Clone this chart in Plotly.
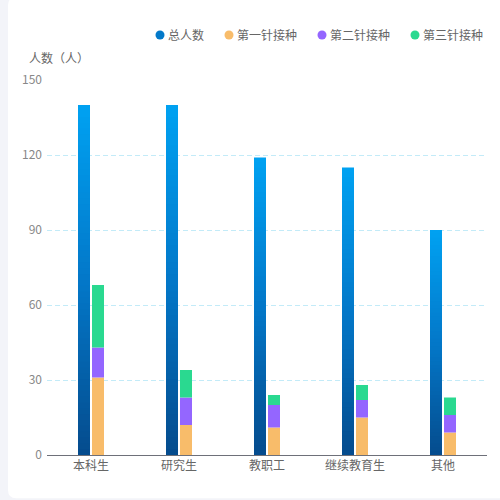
import plotly.graph_objects as go
import plotly.colors as pc

# data
categories = ["本科生", "研究生", "教职工", "继续教育生", "其他"]
total = [140, 140, 119, 115, 90]
dose1 = [31, 12, 11, 15, 9]
dose2 = [12, 11, 9, 7, 7]
dose3 = [25, 11, 4, 6, 7]
series_names = ["总人数", "第一针接种", "第二针接种", "第三针接种"]

font_family = "Noto Sans CJK SC, Noto Sans, sans-serif"
dose_colors = ["#f8bc6a", "#9466ff", "#2ad990"]
legend_colors = ["#0379c9"] + dose_colors
grad = [[0, "#054b8c"], [0.5, "#0377c8"], [1, "#00a1f1"]]

# plot area in pixels (for placing the hand-made legend)
pl, pr, pt, pb = 47, 13, 80, 45
pw, ph = 500 - pl - pr, 500 - pt - pb
cat_px = pw / len(categories)

# bar geometry in category units (12px bars, 2px gap)
bar_w = 12 / cat_px
total_off = -13 / cat_px
stack_off = 1 / cat_px

fig = go.Figure()

# total bar: overlay shrinking bars to fake a vertical gradient
steps = 60
gx, gy, gc = [], [], []
for k in range(steps):
    frac = (steps - k) / steps
    col = pc.sample_colorscale(grad, [frac])[0]
    for cat, t in zip(categories, total):
        gx.append(cat)
        gy.append(t * frac)
        gc.append(col)
fig.add_trace(go.Bar(
    x=gx, y=gy, width=bar_w, offset=total_off,
    marker=dict(color=gc, line=dict(width=0)),
    showlegend=False, hoverinfo="skip",
))

# stacked doses
base = [0] * len(categories)
for name, vals, col in zip(series_names[1:], [dose1, dose2, dose3], dose_colors):
    fig.add_trace(go.Bar(
        x=categories, y=vals, base=list(base), width=bar_w, offset=stack_off,
        marker=dict(color=col, line=dict(width=0)), name=name,
        showlegend=False,
    ))
    base = [b + v for b, v in zip(base, vals)]

# white card with rounded left corners
shapes = [dict(
    type="path", xref="paper", yref="paper", layer="below",
    path="M -0.07,1.22 L 1.1,1.22 L 1.1,-0.115 L -0.07,-0.115 "
         "Q -0.0885,-0.115 -0.0885,-0.094 L -0.0885,1.2 "
         "Q -0.0885,1.22 -0.07,1.22 Z",
    fillcolor="white", line=dict(width=0),
)]
annotations = [dict(
    text="人数（人）", xref="paper", yref="paper", x=(27 - pl) / pw, y=(500 - pb - 57) / ph,
    xanchor="left", yanchor="middle", showarrow=False,
    font=dict(size=12, color="#666"),
)]

# legend: round dots + labels, laid out right to left
leg_y = (500 - pb - 35) / ph
right = 483
for name, col in reversed(list(zip(series_names, legend_colors))):
    tw = 12 * len(name)
    tx = right - tw
    dx = tx - 8
    annotations.append(dict(
        text=name, xref="paper", yref="paper", x=(tx - 2 - pl) / pw, y=leg_y,
        xanchor="left", yanchor="middle", showarrow=False,
        font=dict(size=12, color="#666"),
    ))
    shapes.append(dict(
        type="circle", xref="paper", yref="paper", xsizemode="pixel", ysizemode="pixel",
        xanchor=(dx - pl) / pw, yanchor=leg_y, x0=-4.5, x1=4.5, y0=-4.5, y1=4.5,
        fillcolor=col, line=dict(width=0),
    ))
    right = dx - 25

fig.update_layout(
    width=500, height=500,
    barmode="overlay",
    paper_bgcolor="#f3f4f9",
    plot_bgcolor="white",
    margin=dict(l=pl, r=pr, t=pt, b=pb),
    font=dict(family=font_family, size=12, color="#666"),
    showlegend=False,
    shapes=shapes,
    annotations=annotations,
)

fig.update_xaxes(
    type="category", showgrid=False, showline=True, linecolor="#6e7079",
    linewidth=1, ticks="", tickfont=dict(size=12, color="#666"),
)
fig.update_yaxes(
    range=[0, 150], dtick=30, showgrid=True, gridcolor="#c3ebf8",
    griddash="5px,3px", gridwidth=1, zeroline=False, showline=False,
    tickfont=dict(size=12, color="#888"), ticklabelstandoff=4,
)

fig.write_html(
    "out.html",
    config={"displayModeBar": False},
    post_script="document.body.style.margin='0';",
)
